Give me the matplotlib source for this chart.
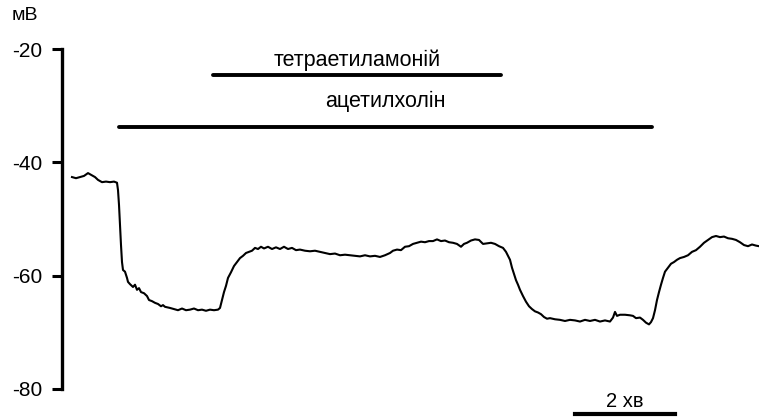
import matplotlib.pyplot as plt

plt.rcParams["font.family"] = ["Liberation Sans", "DejaVu Sans"]

# час, хв
time_min = [
    0.00, 0.08, 0.16, 0.24, 0.32, 0.38, 0.46, 0.52, 0.60, 0.68, 0.76, 0.84, 0.90,
    0.92, 0.94, 0.96, 0.98, 1.00, 1.02, 1.06, 1.10, 1.12, 1.16, 1.22, 1.26, 1.30,
    1.34, 1.38, 1.44, 1.50, 1.54, 1.60, 1.66, 1.72, 1.78, 1.82, 1.86, 1.96, 2.04,
    2.12, 2.20, 2.28, 2.36, 2.44, 2.52, 2.60, 2.68, 2.76, 2.84, 2.92, 2.96, 3.00,
    3.04, 3.08, 3.12, 3.18, 3.24, 3.30, 3.36, 3.42, 3.48, 3.54, 3.60, 3.66, 3.72,
    3.78, 3.84, 3.92, 4.00, 4.08, 4.16, 4.24, 4.32, 4.40, 4.48, 4.56, 4.66, 4.76,
    4.86, 4.96, 5.06, 5.16, 5.26, 5.36, 5.46, 5.56, 5.66, 5.76, 5.86, 5.96, 6.06,
    6.16, 6.26, 6.36, 6.42, 6.50, 6.58, 6.66, 6.74, 6.82, 6.90, 6.98, 7.06, 7.14,
    7.22, 7.30, 7.38, 7.46, 7.54, 7.62, 7.70, 7.78, 7.84, 7.90, 7.98, 8.06, 8.14,
    8.22, 8.30, 8.38, 8.46, 8.54, 8.62, 8.68, 8.72, 8.76, 8.80, 8.84, 8.88, 8.92,
    8.96, 9.02, 9.08, 9.14, 9.20, 9.26, 9.32, 9.38, 9.44, 9.50, 9.56, 9.66, 9.76,
    9.86, 9.96, 10.06, 10.16, 10.26, 10.36, 10.46, 10.56, 10.66, 10.76, 10.82,
    10.86, 10.90, 10.96, 11.06, 11.16, 11.22, 11.28, 11.36, 11.42, 11.48, 11.54,
    11.58, 11.62, 11.66, 11.70, 11.74, 11.78, 11.82, 11.86, 11.92, 11.98, 12.04,
    12.10, 12.16, 12.24, 12.32, 12.40, 12.48, 12.56, 12.64, 12.72, 12.80, 12.88,
    12.96, 13.04, 13.12, 13.20, 13.28, 13.36, 13.44, 13.52, 13.60, 13.68, 13.74,
]

# мембранний потенціал, мВ
potential_mv = [
    -42.6, -42.8, -42.6, -42.4, -41.9, -42.2, -42.6, -43.1, -43.5, -43.4, -43.5, -43.4, -43.6,
    -44.9, -47.5, -51.1, -54.6, -57.6, -59.0, -59.3, -60.4, -61.1, -61.5, -62.0, -61.6, -62.5,
    -62.2, -62.9, -63.1, -63.6, -64.3, -64.5, -64.8, -65.0, -65.4, -65.2, -65.5, -65.7, -65.9,
    -66.1, -65.8, -66.1, -66.0, -65.8, -66.1, -66.0, -66.2, -66.0, -66.1, -66.0, -65.7, -64.3,
    -62.9, -61.8, -60.4, -59.4, -58.3, -57.6, -56.9, -56.5, -56.0, -55.8, -55.6, -55.1, -55.3,
    -54.9, -55.2, -54.9, -55.3, -55.0, -55.3, -54.9, -55.3, -55.1, -55.5, -55.4, -55.6, -55.7,
    -55.6, -55.8, -56.0, -56.2, -56.1, -56.4, -56.3, -56.4, -56.5, -56.6, -56.4, -56.6, -56.5,
    -56.7, -56.4, -56.0, -55.6, -55.4, -55.5, -54.9, -54.8, -54.4, -54.2, -54.0, -54.1, -53.9,
    -53.9, -53.6, -53.9, -53.8, -54.1, -54.2, -54.4, -54.9, -54.4, -54.2, -53.8, -53.6, -53.7,
    -54.4, -54.3, -54.2, -54.4, -54.8, -55.1, -55.8, -56.5, -57.2, -58.6, -59.7, -60.8, -61.6,
    -62.5, -63.6, -64.6, -65.4, -65.9, -66.3, -66.5, -66.8, -67.3, -67.6, -67.5, -67.7, -67.8,
    -68.0, -67.8, -67.9, -68.1, -67.8, -68.0, -67.8, -68.1, -67.9, -68.1, -67.4,
    -66.4, -67.1, -66.9, -66.9, -67.0, -67.1, -67.5, -67.4, -67.8, -68.3, -68.6,
    -68.2, -67.5, -66.1, -64.3, -62.9, -61.6, -60.4, -59.3, -58.6, -57.9, -57.6,
    -57.2, -56.9, -56.7, -56.4, -55.8, -55.5, -54.9, -54.2, -53.7, -53.2, -53.0,
    -53.2, -53.1, -53.4, -53.5, -53.7, -54.1, -54.6, -54.8, -54.5, -54.7, -54.8,
]

# аплікації речовин: назва, початок і кінець (хв), рівень лінії та підпису (мВ)
drug_names = ["тетраетиламоній", "ацетилхолін"]
drug_start = [2.82, 0.94]
drug_end = [8.58, 11.60]
drug_level = [-24.5, -33.8]
drug_label_level = [-23.0, -30.3]

y_ticks = [-80, -60, -40, -20]
scale_start, scale_len, scale_level = 10.06, 2.0, -84.5

fig = plt.figure(figsize=(7.59, 4.19), dpi=100)
ax = fig.add_axes([62 / 759, 0, 1 - 62 / 759, 1])

ax.plot(time_min, potential_mv, color="black", lw=1.5)

for name, t0, t1, lvl, lab in zip(drug_names, drug_start, drug_end,
                                  drug_level, drug_label_level):
    ax.plot([t0, t1], [lvl, lvl], color="black", lw=2.8, solid_capstyle="round")
    ax.text((t0 + t1) / 2, lab, name, ha="center", va="baseline", fontsize=15.5)

# масштабна лінія часу
ax.plot([scale_start, scale_start + scale_len], [scale_level, scale_level],
        color="black", lw=3, clip_on=False)
ax.text(scale_start + scale_len / 2, -83.2, "2 хв",
        ha="center", va="baseline", fontsize=14.5)

ax.set_xlim(-0.2, 13.74)
ax.set_ylim(-85.3, -11.35)
ax.set_yticks(y_ticks)
ax.set_yticklabels([str(v) for v in y_ticks])
ax.tick_params(axis="y", length=7, width=2.2, pad=7, labelsize=15)
ax.set_xticks([])
for side in ["top", "right", "bottom"]:
    ax.spines[side].set_visible(False)
ax.spines["left"].set_linewidth(2.4)
ax.spines["left"].set_bounds(-80, -20)
ax.patch.set_visible(False)

fig.text(12 / 759, 1 - 16 / 419, "мВ", ha="left", va="center", fontsize=14)

fig.savefig("out.png", dpi=100)
